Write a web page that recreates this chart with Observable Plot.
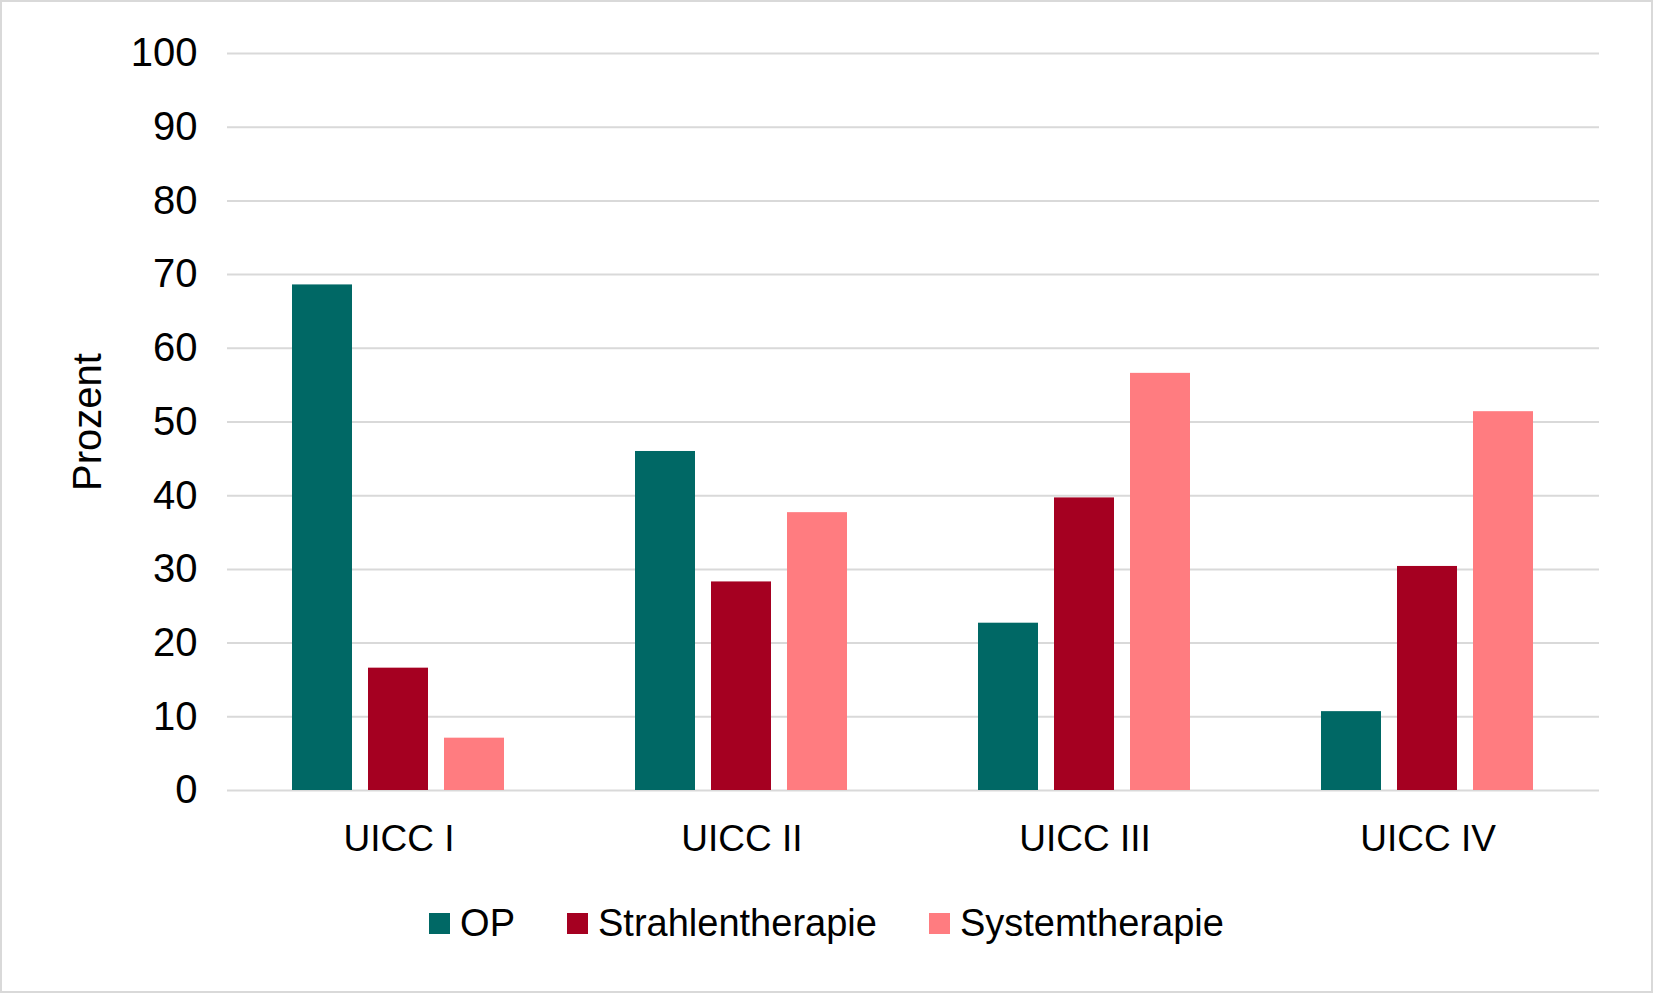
<!DOCTYPE html>
<html><head><meta charset="utf-8">
<script src="https://cdn.jsdelivr.net/npm/d3@7"></script>
<script src="https://cdn.jsdelivr.net/npm/@observablehq/plot@0.6"></script>
<style>
body{margin:0;font-family:Arial,"Liberation Sans",sans-serif;background:#fff}
#box{width:1653px;height:993px;box-sizing:border-box;border:2px solid #d9d9d9;position:relative}
#legend{position:absolute;top:900px;left:0;width:100%;display:flex;justify-content:center;gap:52px;font-size:38px;color:#000}
#legend span{display:flex;align-items:center}
#legend i{display:inline-block;width:21px;height:21px;margin-right:10px}
</style></head><body>
<div id="box"><div id="chart"></div><div id="legend"></div></div>
<script>
const stages = ["UICC I","UICC II","UICC III","UICC IV"];
const series = ["OP","Strahlentherapie","Systemtherapie"];
const colors = ["#006865","#a50021","#ff7c80"];
const op = [68.6,46.0,22.7,10.7];
const strahlen = [16.6,28.3,39.7,30.4];
const system = [7.1,37.7,56.6,51.4];
const yTicks = d3.range(0,101,10);
const vals=[op,strahlen,system];
const data=[];
stages.forEach((s,i)=>series.forEach((t,j)=>data.push({stage:s,series:t,value:vals[j][i]})));
const chart = Plot.plot({
  width:1649,height:870,marginLeft:225,marginRight:52,marginTop:51,marginBottom:82,
  style:{fontFamily:"Arial, 'Liberation Sans', sans-serif",fontSize:"37px",color:"#000"},
  fx:{domain:stages,label:null,padding:0,tickSize:0,tickPadding:34},
  x:{domain:series,axis:null,paddingInner:0.21,paddingOuter:0.86},
  y:{domain:[0,100],ticks:yTicks,tickSize:0,tickPadding:30,label:null},
  color:{domain:series,range:colors},
  marks:[
    Plot.ruleY(yTicks,{stroke:"#d9d9d9",strokeWidth:2}),
    Plot.barY(data,{fx:"stage",x:"series",y:"value",fill:"series"}),
    Plot.axisY({ticks:yTicks,tickSize:0,tickPadding:30,label:"Prozent",labelAnchor:"center",labelArrow:"none",labelOffset:155,fontSize:40})
  ]
});
document.getElementById("chart").appendChild(chart);
document.getElementById("legend").innerHTML=series.map((s,i)=>`<span><i style="background:${colors[i]}"></i>${s}</span>`).join("");
</script></body></html>
